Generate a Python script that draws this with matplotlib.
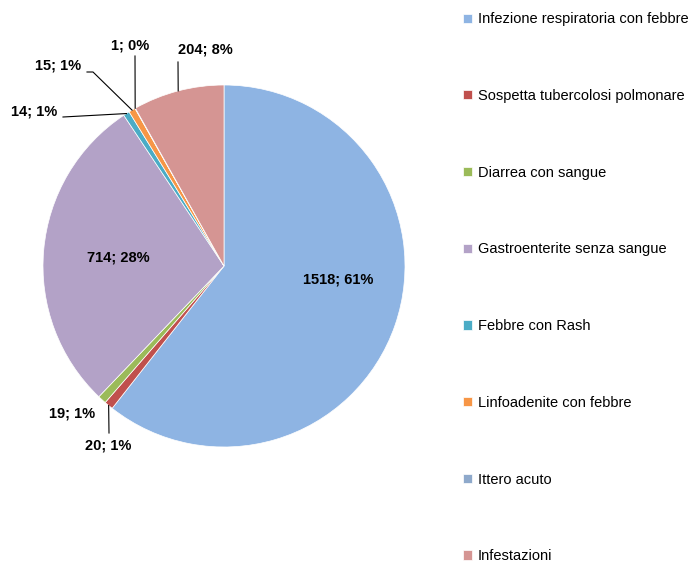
import matplotlib.pyplot as plt
import numpy as np

plt.rcParams['font.family'] = ['Liberation Sans Narrow', 'Liberation Sans', 'DejaVu Sans']

categorie = ['Infezione respiratoria con febbre', 'Sospetta tubercolosi polmonare',
             'Diarrea con sangue', 'Gastroenterite senza sangue', 'Febbre con Rash',
             'Linfoadenite con febbre', 'Ittero acuto', 'Infestazioni']
casi = [1518, 20, 19, 714, 14, 15, 1, 204]
percentuali = ['61%', '1%', '1%', '28%', '1%', '1%', '0%', '8%']
colori = ['#8EB4E3', '#C0504D', '#9BBB59', '#B3A2C7', '#4BACC6', '#F79646', '#8EA9CB', '#D59593']

# posizione delle etichette (pixel dell'immagine, y verso il basso)
pos_etichette = [(338, 279), (108, 445), (72, 413), (118, 258), (34, 111), (58, 66), (130, 46), (205, 50)]
# punto di partenza della linea guida (None = nessuna linea)
inizio_linea = [None, [(109, 433)], None, None, [(63, 117)], [(87, 72), (93, 72)],
                [(135, 56)], [(178, 62)]]

W, H = 698, 566
fig = plt.figure(figsize=(W / 100, H / 100), dpi=100)
ax = fig.add_axes([0, 0, 1, 1])

centro = (224, H - 266)
raggio = 181
wedges, _ = ax.pie(casi, colors=colori, startangle=90, counterclock=False,
                   center=centro, radius=raggio, frame=True,
                   wedgeprops=dict(edgecolor='white', linewidth=0.5))
ax.set_xlim(0, W)
ax.set_ylim(0, H)
ax.set_aspect('equal')
ax.axis('off')

for w, n, p, (tx, ty), inizio in zip(wedges, casi, percentuali, pos_etichette, inizio_linea):
    ax.text(tx, H - ty, f'{n}; {p}', ha='center', va='center', fontsize=10.5, fontweight='bold')
    if inizio:
        ang = np.deg2rad((w.theta1 + w.theta2) / 2)
        px = centro[0] + raggio * np.cos(ang)
        py = centro[1] + raggio * np.sin(ang)
        xs = [q[0] for q in inizio] + [px]
        ys = [H - q[1] for q in inizio] + [py]
        ax.plot(xs, ys, color='black', lw=0.8)

leg = ax.legend(wedges, categorie, loc='upper left', bbox_to_anchor=(456 / W, 1 - 5 / H),
                frameon=False, fontsize=10.5, labelspacing=4.3,
                handlelength=0.6, handleheight=0.6, handletextpad=0.4, borderpad=0)

fig.savefig('out.png', dpi=100)
